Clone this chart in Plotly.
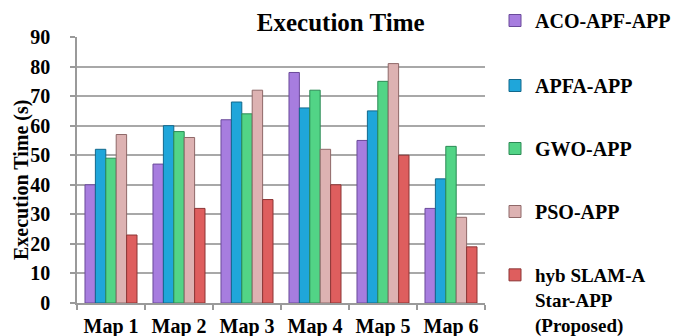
import plotly.graph_objects as go

# Execution time per map for each path planning approach (seconds)
maps = ["Map 1", "Map 2", "Map 3", "Map 4", "Map 5", "Map 6"]
aco_apf_app = [40, 47, 62, 78, 55, 32]
apfa_app = [52, 60, 68, 66, 65, 42]
gwo_app = [49, 58, 64, 72, 75, 53]
pso_app = [57, 56, 72, 52, 81, 29]
hyb_slam_astar_app = [23, 32, 35, 40, 50, 19]

series_names = [
    "ACO-APF-APP",
    "APFA-APP",
    "GWO-APP",
    "PSO-APP",
    "hyb SLAM-A<br>Star-APP<br>(Proposed)",
]
series_values = [aco_apf_app, apfa_app, gwo_app, pso_app, hyb_slam_astar_app]
fill_colors = ["#a77ddf", "#1fa6da", "#52d486", "#ddb2b2", "#de5e5e"]
edge_colors = ["#6a4a9a", "#12688c", "#2c8a55", "#8f6868", "#8c3535"]

FONT = "Liberation Serif"
W, H = 676, 336
PLOT_LEFT, PLOT_RIGHT = 77, 485
PLOT_TOP, PLOT_BOTTOM = 37, 303
LEGEND_ROWS = [21, 86, 149, 212, 276]  # vertical centre of each entry's first line
LEGEND_SIZES = [20, 20, 20, 20, 19]

legend_ids = ["legend", "legend2", "legend3", "legend4", "legend5"]

fig = go.Figure()
for i, (name, vals) in enumerate(zip(series_names, series_values)):
    fig.add_trace(go.Bar(
        x=maps,
        y=vals,
        name=name,
        legend=legend_ids[i],
        marker=dict(color=fill_colors[i], line=dict(color=edge_colors[i], width=1)),
    ))

plot_h = PLOT_BOTTOM - PLOT_TOP
plot_w = PLOT_RIGHT - PLOT_LEFT
legend_layout = {}
for lid, row, fs in zip(legend_ids, LEGEND_ROWS, LEGEND_SIZES):
    legend_layout[lid] = dict(
        x=(495 - PLOT_LEFT) / plot_w, xanchor="left",
        y=(PLOT_BOTTOM - (row - 20)) / plot_h, yanchor="top",
        font=dict(family=FONT, size=fs, color="black", weight="bold"),
        valign="top",
        bgcolor="rgba(0,0,0,0)",
    )

fig.update_layout(
    width=W,
    height=H,
    margin=dict(l=PLOT_LEFT, r=W - PLOT_RIGHT, t=PLOT_TOP, b=H - PLOT_BOTTOM, autoexpand=False),
    paper_bgcolor="white",
    plot_bgcolor="white",
    barmode="group",
    bargap=0.235,
    bargroupgap=0,
    font=dict(family=FONT, size=20, color="black", weight="bold"),
    title=dict(
        text="Execution Time",
        x=0.504, xref="container", xanchor="center",
        y=0.935, yref="container", yanchor="middle",
        font=dict(family=FONT, size=25, color="black", weight="bold"),
    ),
    showlegend=True,
    annotations=[dict(
        text="Execution Time (s)",
        textangle=-90,
        xref="paper", yref="paper",
        x=(21 - PLOT_LEFT) / plot_w, xanchor="center",
        y=(PLOT_BOTTOM - 180) / plot_h, yanchor="middle",
        showarrow=False,
        font=dict(family=FONT, size=20, color="black", weight="bold"),
    )],
    **legend_layout,
)

fig.update_xaxes(
    type="category",
    tickangle=0,
    automargin=False,
    showline=True, linecolor="#9a9a9a", linewidth=1.5,
    ticks="outside", tickson="boundaries", ticklen=5, tickcolor="#9a9a9a", tickwidth=1.5,
    ticklabelstandoff=4,
    showgrid=False,
    tickfont=dict(family=FONT, size=20, color="black", weight="bold"),
)
fig.update_yaxes(
    range=[0, 90],
    dtick=10,
    automargin=False,
    showline=True, linecolor="#9a9a9a", linewidth=1.5,
    ticks="outside", ticklen=5, tickcolor="#9a9a9a", tickwidth=1.5,
    ticklabelstandoff=16,
    showgrid=True, gridcolor="#a8a8a8", gridwidth=1.5,
    zeroline=False,
    tickfont=dict(family=FONT, size=20, color="black", weight="bold"),
)

fig.write_html("out.html")
